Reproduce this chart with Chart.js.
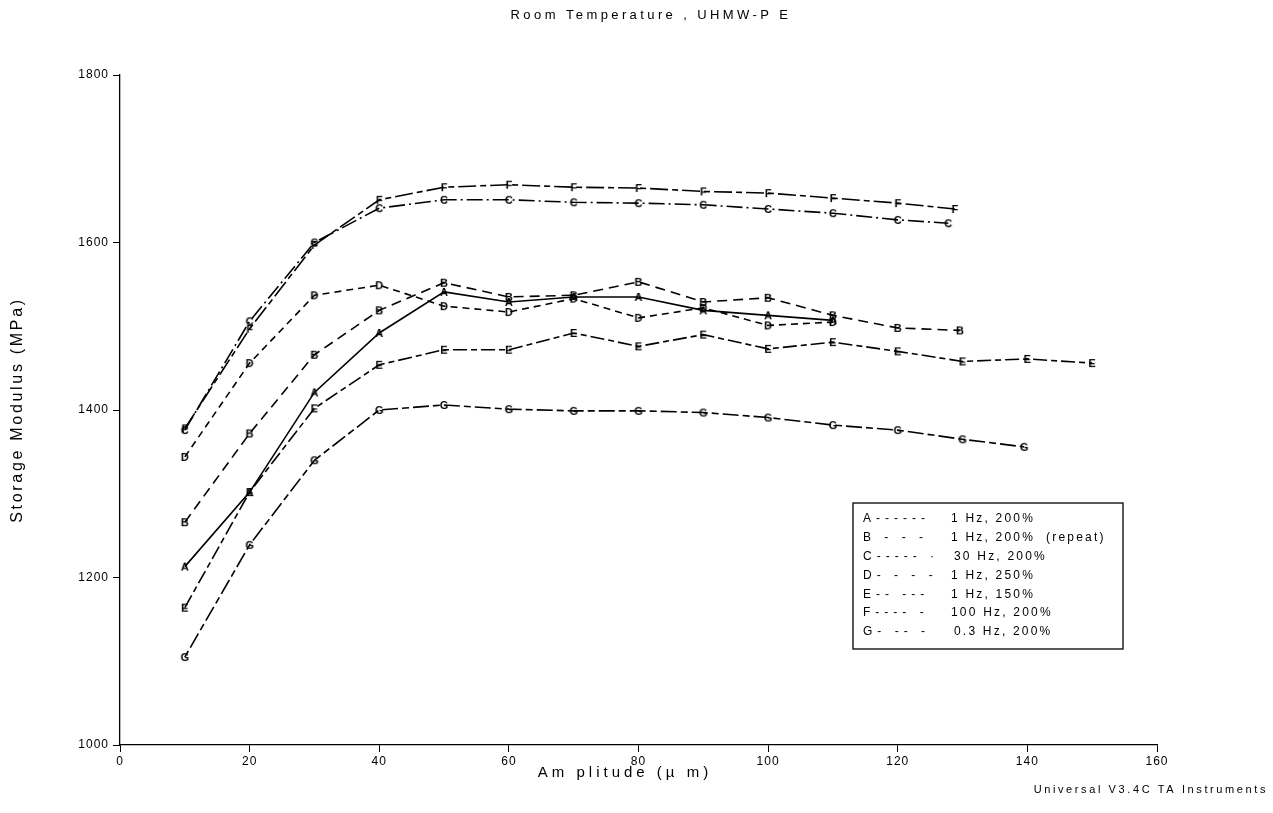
<!DOCTYPE html>
<html>
<head>
<meta charset="utf-8">
<script src="https://cdn.jsdelivr.net/npm/chart.js@4.4.1/dist/chart.umd.min.js"></script>
<style>
  html, body { margin: 0; padding: 0; background: #ffffff; }
  #wrap { width: 1273px; height: 813px; }
</style>
</head>
<body>
<div id="wrap"><canvas id="c" width="1273" height="813"></canvas></div>
<script>
// Amplitude (µm) and storage modulus (MPa) for each test condition
const ampA = [10, 20, 30, 40, 50, 60, 70, 80, 90, 100, 110];
const modA = [1213, 1302, 1421, 1492, 1541, 1529, 1535, 1535, 1519, 1513, 1507];

const ampB = [10, 20, 30, 40, 50, 60, 70, 80, 90, 100, 110, 120, 129.6];
const modB = [1266, 1372, 1466, 1519, 1552, 1535, 1537, 1553, 1529, 1534, 1513, 1498, 1495];

const ampC = [10, 20, 30, 40, 50, 60, 70, 80, 90, 100, 110, 120, 127.8];
const modC = [1376, 1506, 1600, 1641, 1651, 1651, 1648, 1647, 1645, 1640, 1635, 1627, 1623];

const ampD = [10, 20, 30, 40, 50, 60, 70, 80, 90, 100, 110];
const modD = [1344, 1456, 1537, 1549, 1524, 1517, 1533, 1510, 1522, 1501, 1505];

const ampE = [10, 20, 30, 40, 50, 60, 70, 80, 90, 100, 110, 120, 130, 140, 150];
const modE = [1164, 1302, 1402, 1454, 1472, 1472, 1492, 1476, 1490, 1473, 1481, 1470, 1458, 1461, 1456];

const ampF = [10, 20, 30, 40, 50, 60, 70, 80, 90, 100, 110, 120, 128.8];
const modF = [1378, 1497, 1597, 1651, 1666, 1669, 1666, 1665, 1661, 1659, 1653, 1647, 1640];

const ampG = [10, 20, 30, 40, 50, 60, 70, 80, 90, 100, 110, 120, 130, 139.5];
const modG = [1105, 1239, 1340, 1400, 1406, 1401, 1399, 1399, 1397, 1391, 1382, 1376, 1365, 1356];

// Legend rows: curve letter with its line key, and the test condition
const seriesKeys = ['A------', 'B - - -', 'C----- \u00b7', 'D- - - -', 'E-- ---', 'F---- -', 'G- -- -'];
const seriesNames = ['1 Hz, 200%', '1 Hz, 200%  (repeat)', '30 Hz, 200%', '1 Hz, 250%', '1 Hz, 150%', '100 Hz, 200%', '0.3 Hz, 200%'];

// Axis tick values
const xTicks = [0, 20, 40, 60, 80, 100, 120, 140, 160];
const yTicks = [1000, 1200, 1400, 1600, 1800];

const FONT = '"Liberation Sans", Arial, sans-serif';

// Each curve is marked with its letter at every measured point
function letterMarker(ch) {
  const c = document.createElement('canvas');
  c.width = 14; c.height = 14;
  const g = c.getContext('2d');
  g.fillStyle = '#000';
  g.font = 'bold 11px ' + FONT;
  g.textAlign = 'center';
  g.textBaseline = 'middle';
  g.fillText(ch, 7, 7.5);
  return c;
}

function pts(xs, ys) { return xs.map((x, i) => ({ x: x, y: ys[i] })); }

function series(letter, xs, ys, dash) {
  return {
    label: letter,
    data: pts(xs, ys),
    showLine: true,
    borderColor: '#000',
    backgroundColor: '#000',
    borderWidth: 1.6,
    borderDash: dash,
    tension: 0,
    pointStyle: letterMarker(letter),
    pointRadius: 7,
    pointHoverRadius: 7
  };
}

const datasets = [
  series('A', ampA, modA, []),
  series('B', ampB, modB, [10, 6]),
  series('C', ampC, modC, [16, 4, 2, 4]),
  series('D', ampD, modD, [7, 5]),
  series('E', ampE, modE, [14, 4, 6, 4]),
  series('F', ampF, modF, [18, 4, 6, 4]),
  series('G', ampG, modG, [7, 4, 16, 4])
];

// Titles, axis names, the condition key box and the instrument note
const annotations = {
  id: 'annotations',
  beforeDraw(chart) { chart.ctx.letterSpacing = '1px'; },
  afterDraw(chart) {
    const ctx = chart.ctx;
    ctx.save();
    ctx.fillStyle = '#000';
    ctx.textBaseline = 'middle';
    ctx.textAlign = 'center';

    ctx.font = '13px ' + FONT;
    ctx.letterSpacing = '3.4px';
    ctx.fillText('Room Temperature , UHMW-P E', 651, 15);

    ctx.font = '15px ' + FONT;
    ctx.letterSpacing = '4px';
    ctx.fillText('Am plitude (\u00b5 m)', 625, 773);

    ctx.save();
    ctx.translate(18, 410);
    ctx.rotate(-Math.PI / 2);
    ctx.font = '16px ' + FONT;
    ctx.letterSpacing = '2.7px';
    ctx.fillText('Storage Modulus (MPa)', 0, 0);
    ctx.restore();

    ctx.font = '11px ' + FONT;
    ctx.letterSpacing = '2.6px';
    ctx.textAlign = 'right';
    ctx.fillText('Universal V3.4C TA Instruments', 1268, 790);

    // key box
    ctx.lineWidth = 1.3;
    ctx.strokeStyle = '#000';
    ctx.strokeRect(853, 503, 270, 146);
    ctx.textAlign = 'left';
    ctx.font = '12px ' + FONT;
    seriesKeys.forEach((k, i) => {
      const y = 519 + i * 18.8;
      ctx.letterSpacing = '5px';
      ctx.fillText(k, 863, y);
      ctx.letterSpacing = '2.2px';
      ctx.fillText(seriesNames[i], 951 + (i === 2 || i === 6 ? 3 : 0), y);
    });
    ctx.restore();
  }
};

const tickFont = { family: FONT, size: 12 };

new Chart(document.getElementById('c'), {
  type: 'scatter',
  data: { datasets: datasets },
  options: {
    responsive: false,
    animation: false,
    devicePixelRatio: 1,
    layout: { padding: { left: 0, top: 75, right: 116, bottom: 0 } },
    plugins: { legend: { display: false }, tooltip: { enabled: false }, title: { display: false } },
    scales: {
      x: {
        type: 'linear',
        min: 0, max: 160,
        afterBuildTicks(s) { s.ticks = xTicks.map(v => ({ value: v })); },
        afterFit(s) { s.height = 68; },
        ticks: { color: '#000', font: tickFont, padding: 2, maxRotation: 0, callback: v => String(v) },
        grid: { display: true, drawOnChartArea: false, drawTicks: true, tickLength: 7, color: '#000', lineWidth: 1 },
        border: { display: true, color: '#000', width: 1.3 }
      },
      y: {
        type: 'linear',
        min: 1000, max: 1800,
        afterBuildTicks(s) { s.ticks = yTicks.map(v => ({ value: v })); },
        afterFit(s) { s.width = 120; },
        ticks: { color: '#000', font: tickFont, padding: 4, callback: v => String(v) },
        grid: { display: true, drawOnChartArea: false, drawTicks: true, tickLength: 7, color: '#000', lineWidth: 1 },
        border: { display: true, color: '#000', width: 1.3 }
      }
    }
  },
  plugins: [annotations]
});
</script>
</body>
</html>
